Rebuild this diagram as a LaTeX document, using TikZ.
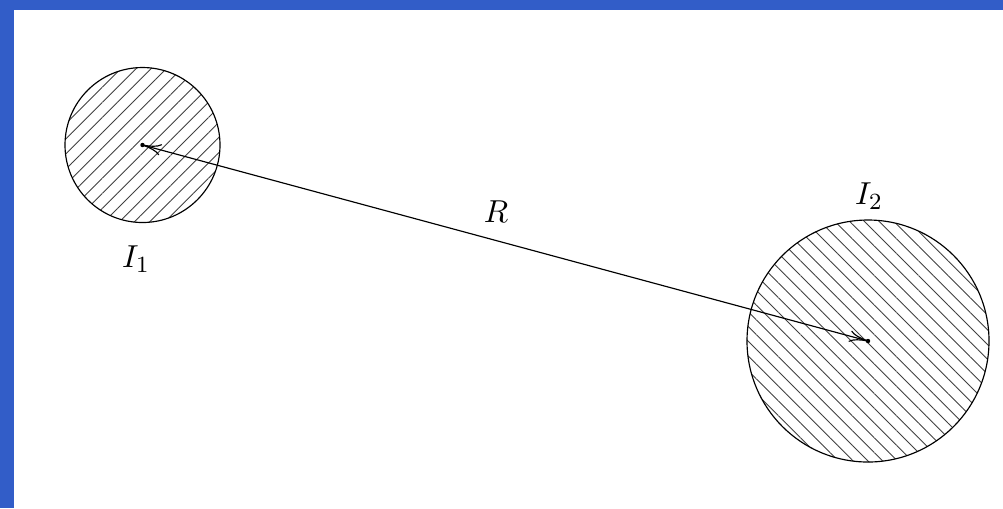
\documentclass[tikz,border=0pt]{standalone}
\usetikzlibrary{positioning}
\usetikzlibrary{patterns.meta,arrows.meta}
\definecolor{framblue}{RGB}{50, 93, 200}

\begin{document}
\begin{tikzpicture}[x=0.345pt, y=-0.345pt,
    hatchA/.style={pattern={Lines[angle=45, distance=3.7pt, line width=0.3pt]}, pattern color=black!75},
    hatchB/.style={pattern={Lines[angle=-45, distance=3.6pt, line width=0.3pt]}, pattern color=black!75},
    lbl/.style={font=\fontsize{10.8}{13}\selectfont}]
            \useasboundingbox (0,0) rectangle (1003,508);
            
            % Frame
            \fill[framblue] (0,0) rectangle (1003,10);
            \fill[framblue] (0,0) rectangle (14,508);
            
            % Centres
            \coordinate (c1) at (142.5,145);
            \coordinate (c2) at (868,341);
            
            % Hatched discs
            \draw[hatchA] (c1) circle [radius=77.5];
            \draw[hatchB] (c2) circle [radius=121];
            
            % Distance
            \draw[{To[length=6.5pt,width=4pt]}-{To[length=6.5pt,width=4pt]}] (c1) -- (c2);
            \fill (c1) circle [radius=2.2];
            \fill (c2) circle [radius=2.2];
            
            % Labels
            \node[lbl] (lI1) at (136,259) {$I_1$};
            \node[lbl] (lI2) at (869,196) {$I_2$};
            \node[lbl] (lR) at (496,212) {$R$};
            
\end{tikzpicture}
\end{document}
